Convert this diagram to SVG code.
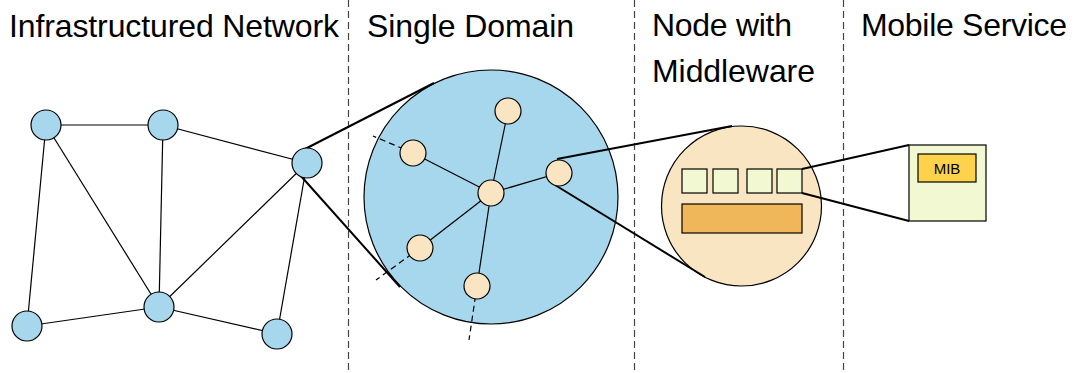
<svg xmlns="http://www.w3.org/2000/svg" width="1078" height="373" viewBox="0 0 1078 373">
<style>
.t{font-family:"Liberation Sans",Arial,sans-serif;font-size:32px;fill:#000}
.edge{stroke:#000;stroke-width:1.2;fill:none}
.zoom{stroke:#000;stroke-width:2;fill:none}
.dash{stroke:#000;stroke-width:1.2;stroke-dasharray:6 4;fill:none}
.sep{stroke:#444;stroke-width:1.2;stroke-dasharray:7 4;fill:none}
.bn{fill:#a6d7ec;stroke:#000;stroke-width:1.2}
.pn{fill:#f9e5c1;stroke:#000;stroke-width:1.2}
.sq{fill:#f2f8d1;stroke:#000;stroke-width:1.2}
</style>
<rect width="1078" height="373" fill="#fff"/>
<g id="separators">
<line class="sep" x1="348.5" y1="0" x2="348.5" y2="373"/>
<line class="sep" x1="634.5" y1="0" x2="634.5" y2="373"/>
<line class="sep" x1="843.5" y1="0" x2="843.5" y2="373"/>
</g>
<g id="titles">
<text class="t" x="9" y="37" textLength="330">Infrastructured Network</text>
<text class="t" x="367" y="37" textLength="207">Single Domain</text>
<text class="t" x="652" y="36" textLength="140">Node with</text>
<text class="t" x="652" y="82" textLength="163">Middleware</text>
<text class="t" x="861" y="36" textLength="206">Mobile Service</text>
</g>
<g id="domain">
<circle cx="491" cy="197" r="127" fill="#a6d7ec" stroke="#000" stroke-width="1.2"/>
</g>
<g id="middleware">
<circle cx="741.5" cy="206" r="80" fill="#f9e5c1" stroke="#000" stroke-width="1.2"/>
<rect class="sq" x="682" y="169" width="25" height="24"/>
<rect class="sq" x="713" y="169" width="25" height="24"/>
<rect class="sq" x="747" y="169" width="25" height="24"/>
<rect class="sq" x="777" y="169" width="25" height="24"/>
<rect x="682" y="204" width="120" height="29" fill="#efb65a" stroke="#000" stroke-width="1.2"/>
</g>
<g id="mobile-service">
<rect x="909" y="145" width="77" height="76" fill="#f2f8d1" stroke="#000" stroke-width="1.2"/>
<rect x="918" y="154" width="58" height="28" fill="#ffd24c" stroke="#000" stroke-width="1.2"/>
<text x="947" y="174" text-anchor="middle" style="font-family:'Liberation Sans',Arial,sans-serif;font-size:15px">MIB</text>
</g>
<g id="connectors">
<line class="edge" x1="46" y1="125" x2="163" y2="125"/>
<line class="edge" x1="46" y1="125" x2="27" y2="326"/>
<line class="edge" x1="46" y1="125" x2="159" y2="307"/>
<line class="edge" x1="163" y1="125" x2="159" y2="307"/>
<line class="edge" x1="163" y1="125" x2="307" y2="163"/>
<line class="edge" x1="307" y1="163" x2="159" y2="307"/>
<line class="edge" x1="307" y1="163" x2="277" y2="334"/>
<line class="edge" x1="27" y1="326" x2="159" y2="307"/>
<line class="edge" x1="159" y1="307" x2="277" y2="334"/>
<line class="zoom" x1="305" y1="149" x2="434" y2="83"/>
<line class="zoom" x1="300" y1="175" x2="400" y2="287"/>
<line class="edge" x1="491" y1="193" x2="508" y2="111"/>
<line class="edge" x1="491" y1="193" x2="413" y2="153"/>
<line class="edge" x1="491" y1="193" x2="559" y2="173"/>
<line class="edge" x1="491" y1="193" x2="420" y2="248"/>
<line class="edge" x1="491" y1="193" x2="477" y2="286"/>
<line class="dash" x1="413" y1="153" x2="373" y2="136"/>
<line class="dash" x1="420" y1="248" x2="376" y2="280"/>
<line class="dash" x1="477" y1="286" x2="469" y2="340"/>
<line class="zoom" x1="557" y1="159" x2="732" y2="126"/>
<line class="zoom" x1="555" y1="185" x2="705" y2="277"/>
<line class="zoom" x1="802" y1="169" x2="909" y2="145"/>
<line class="zoom" x1="802" y1="193" x2="909" y2="221"/>
</g>
<g id="network-nodes">
<circle id="n1" class="bn" cx="46" cy="125" r="15"/>
<circle id="n2" class="bn" cx="163" cy="125" r="15"/>
<circle id="n3" class="bn" cx="307" cy="163" r="15"/>
<circle id="n4" class="bn" cx="27" cy="326" r="15"/>
<circle id="n5" class="bn" cx="159" cy="307" r="15"/>
<circle id="n6" class="bn" cx="277" cy="334" r="15"/>
</g>
<g id="domain-nodes">
<circle id="d0" class="pn" cx="491" cy="193" r="13"/>
<circle id="d1" class="pn" cx="508" cy="111" r="13"/>
<circle id="d2" class="pn" cx="413" cy="153" r="13"/>
<circle id="d3" class="pn" cx="559" cy="173" r="13"/>
<circle id="d4" class="pn" cx="420" cy="248" r="13"/>
<circle id="d5" class="pn" cx="477" cy="286" r="13"/>
</g>
</svg>
